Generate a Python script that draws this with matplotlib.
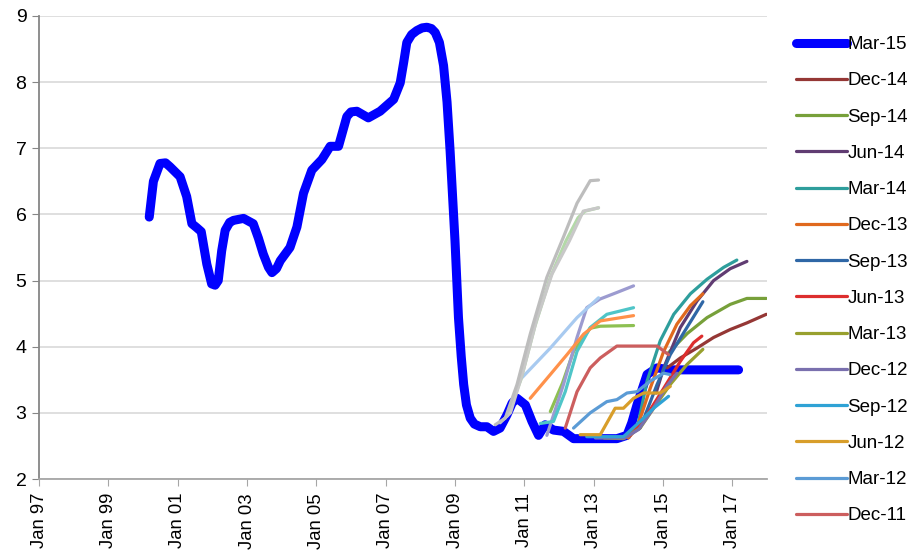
import matplotlib
matplotlib.use("Agg")
import matplotlib.pyplot as plt

plt.rcParams['font.family'] = ['Liberation Sans', 'DejaVu Sans']

# ---------------- data ----------------
tick_years = [1997, 1999, 2001, 2003, 2005, 2007, 2009, 2011, 2013, 2015, 2017]
tick_labels = ["Jan 97", "Jan 99", "Jan 01", "Jan 03", "Jan 05", "Jan 07",
               "Jan 09", "Jan 11", "Jan 13", "Jan 15", "Jan 17"]

mar15_x = [2000.18, 2000.30, 2000.49, 2000.65, 2000.78, 2001.07, 2001.26, 2001.41,
           2001.55, 2001.68, 2001.84, 2001.98, 2002.08, 2002.17, 2002.27, 2002.37,
           2002.50, 2002.61, 2002.90, 2003.18, 2003.33, 2003.47, 2003.62, 2003.72,
           2003.85, 2003.96, 2004.24, 2004.44, 2004.63, 2004.87, 2005.16, 2005.40,
           2005.64, 2005.88, 2006.00, 2006.17, 2006.50, 2006.84, 2007.23, 2007.42,
           2007.52, 2007.61, 2007.75, 2007.90, 2008.05, 2008.19, 2008.32, 2008.43,
           2008.55, 2008.67, 2008.77, 2008.86, 2009.00, 2009.10, 2009.18, 2009.25,
           2009.33, 2009.44, 2009.56, 2009.73, 2009.92, 2010.11, 2010.30, 2010.50,
           2010.65, 2010.79, 2011.03, 2011.22, 2011.41, 2011.60, 2011.84, 2012.13,
           2012.42, 2012.90, 2013.67, 2013.96, 2014.10, 2014.25, 2014.54, 2014.83,
           2015.20, 2016.00, 2017.18]
mar15_y = [5.96, 6.50, 6.77, 6.78, 6.72, 6.57, 6.27, 5.86,
           5.80, 5.74, 5.25, 4.95, 4.93, 5.00, 5.45, 5.76,
           5.88, 5.91, 5.94, 5.86, 5.64, 5.40, 5.20, 5.12,
           5.18, 5.30, 5.50, 5.81, 6.32, 6.67, 6.83, 7.03,
           7.03, 7.48, 7.55, 7.56, 7.46, 7.56, 7.74, 7.99,
           8.30, 8.60, 8.72, 8.78, 8.82, 8.83, 8.81, 8.75,
           8.60, 8.25, 7.70, 6.95, 5.60, 4.44, 3.85, 3.43,
           3.12, 2.92, 2.83, 2.79, 2.79, 2.72, 2.77, 2.97,
           3.15, 3.22, 3.12, 2.87, 2.66, 2.82, 2.74, 2.72,
           2.61, 2.61, 2.61, 2.66, 2.85, 3.12, 3.58, 3.68,
           3.65, 3.65, 3.65]

dec14_x = [2015.12, 2015.50, 2015.98, 2016.46, 2016.94, 2017.42, 2017.98]
dec14_y = [3.68, 3.83, 3.98, 4.14, 4.26, 4.36, 4.49]
sep14_x = [2015.14, 2015.70, 2016.27, 2016.94, 2017.42, 2017.98]
sep14_y = [3.90, 4.20, 4.44, 4.64, 4.73, 4.73]
jun14_x = [2014.80, 2015.02, 2015.50, 2015.98, 2016.46, 2016.94, 2017.42]
jun14_y = [3.30, 3.68, 4.29, 4.69, 5.00, 5.18, 5.29]
mar14_x = [2014.25, 2014.54, 2014.92, 2015.31, 2015.79, 2016.27, 2016.75, 2017.13]
mar14_y = [2.75, 3.48, 4.09, 4.49, 4.80, 5.02, 5.20, 5.31]
dec13_x = [2014.00, 2014.25, 2014.63, 2015.02, 2015.40, 2015.79, 2016.15]
dec13_y = [2.62, 2.77, 3.37, 3.93, 4.34, 4.62, 4.80]
sep13_x = [2013.80, 2014.34, 2014.83, 2015.21, 2015.69, 2016.15]
sep13_y = [2.62, 2.77, 3.43, 3.88, 4.29, 4.68]
jun13_x = [2013.60, 2014.05, 2014.54, 2015.02, 2015.50, 2015.88, 2016.12]
jun13_y = [2.62, 2.66, 2.97, 3.37, 3.78, 4.06, 4.16]
mar13_x = [2013.30, 2013.86, 2014.34, 2014.73, 2015.21, 2015.69, 2016.15]
mar13_y = [2.62, 2.61, 2.77, 3.07, 3.43, 3.73, 3.96]
dec12_x = [2013.05, 2013.90, 2014.30, 2014.70, 2015.10, 2015.40]
dec12_y = [2.62, 2.62, 2.75, 3.05, 3.40, 3.60]
sep12_x = [2012.80, 2013.86, 2014.34, 2014.73, 2015.16]
sep12_y = [2.64, 2.64, 2.87, 3.07, 3.25]
jun12_x = [2012.61, 2013.19, 2013.62, 2013.86, 2014.15, 2014.44, 2014.92, 2015.21]
jun12_y = [2.67, 2.67, 3.07, 3.07, 3.22, 3.30, 3.30, 3.40]
mar12_x = [2012.42, 2012.90, 2013.38, 2013.67, 2013.96, 2014.25, 2014.63, 2015.02, 2015.20]
mar12_y = [2.77, 3.00, 3.17, 3.20, 3.30, 3.32, 3.48, 3.60, 3.58]
dec11_x = [2012.18, 2012.52, 2012.90, 2013.19, 2013.67, 2014.83, 2015.16]
dec11_y = [2.77, 3.32, 3.68, 3.83, 4.01, 4.01, 3.88]

# older (unlabelled) curves
old_a_x = [2010.16, 2010.45, 2010.79, 2011.17, 2011.65, 2012.13, 2012.52, 2012.90, 2013.14]
old_a_y = [2.82, 2.92, 3.43, 4.19, 5.05, 5.66, 6.17, 6.51, 6.52]
old_b_x = [2010.30, 2010.60, 2010.95, 2011.35, 2011.80, 2012.30, 2012.70, 2013.14]
old_b_y = [2.85, 3.00, 3.60, 4.40, 5.10, 5.60, 6.05, 6.10]
old_c_x = [2010.50, 2010.90, 2011.30, 2011.75, 2012.20, 2012.55, 2012.75, 2013.14]
old_c_y = [2.95, 3.50, 4.30, 5.05, 5.60, 5.95, 6.05, 6.10]
old_d_x = [2010.93, 2011.75, 2012.52, 2013.14]
old_d_y = [3.53, 3.98, 4.44, 4.74]
old_e_x = [2011.17, 2011.75, 2012.23, 2012.71, 2013.19, 2014.15]
old_e_y = [3.22, 3.58, 3.88, 4.19, 4.39, 4.47]
old_f_x = [2011.46, 2011.84, 2012.18, 2012.52, 2012.90, 2013.38, 2014.15]
old_f_y = [2.84, 2.87, 3.32, 3.93, 4.29, 4.49, 4.59]
old_g_x = [2011.65, 2012.13, 2012.52, 2012.80, 2013.18, 2013.67, 2014.15]
old_g_y = [2.66, 3.43, 4.14, 4.59, 4.72, 4.82, 4.92]
old_h_x = [2011.75, 2012.10, 2012.42, 2012.90, 2013.19, 2014.15]
old_h_y = [3.02, 3.45, 3.93, 4.28, 4.31, 4.32]

# ---------------- plot ----------------
fig = plt.figure(figsize=(9.19, 5.52), dpi=100)
ax = fig.add_axes([39/919, 1-479/552, (767-39)/919, (479-16)/552])

ax.plot(mar15_x, mar15_y, color='#0000FF', lw=6.5, solid_joinstyle='round',
        solid_capstyle='round', label='Mar-15', zorder=2)

series = [
    (dec14_x, dec14_y, '#953735', 'Dec-14'),
    (sep14_x, sep14_y, '#77A03A', 'Sep-14'),
    (jun14_x, jun14_y, '#603C72', 'Jun-14'),
    (mar14_x, mar14_y, '#2E9E9C', 'Mar-14'),
    (dec13_x, dec13_y, '#E0691E', 'Dec-13'),
    (sep13_x, sep13_y, '#2F67A6', 'Sep-13'),
    (jun13_x, jun13_y, '#DD2E2E', 'Jun-13'),
    (mar13_x, mar13_y, '#98A02E', 'Mar-13'),
    (dec12_x, dec12_y, '#7A70AE', 'Dec-12'),
    (sep12_x, sep12_y, '#2FA2D5', 'Sep-12'),
    (jun12_x, jun12_y, '#D89E2A', 'Jun-12'),
    (mar12_x, mar12_y, '#5B9BD5', 'Mar-12'),
    (dec11_x, dec11_y, '#CC5E5E', 'Dec-11'),
]
for x, y, c, lab in series:
    ax.plot(x, y, color=c, lw=2.3, solid_joinstyle='round',
            solid_capstyle='round', label=lab, zorder=3)

old = [
    (old_h_x, old_h_y, '#8DC052'),
    (old_g_x, old_g_y, '#9C9BD0'),
    (old_f_x, old_f_y, '#4FC5C8'),
    (old_e_x, old_e_y, '#FF914A'),
    (old_d_x, old_d_y, '#A8CAF0'),
    (old_c_x, old_c_y, '#B3D9A8'),
    (old_b_x, old_b_y, '#C8C8C8'),
    (old_a_x, old_a_y, '#BDBDBD'),
]
for x, y, c in old:
    ax.plot(x, y, color=c, lw=2.3, solid_joinstyle='round',
            solid_capstyle='round', label='_nolegend_', zorder=3)

ax.set_xlim(1997, 2018)
ax.set_ylim(2, 9)
ax.set_yticks(range(2, 10))
ax.set_xticks(tick_years)
ax.set_xticklabels(tick_labels, rotation=90)
ax.grid(axis='y', color='#D9D9D9', lw=1.2, zorder=0)
ax.set_axisbelow(True)
for s in ['top', 'right']:
    ax.spines[s].set_visible(False)
ax.spines['left'].set_color('#868686')
ax.spines['bottom'].set_color('#A6A6A6')
ax.spines['left'].set_linewidth(1.3)
ax.spines['bottom'].set_linewidth(1.3)
ax.tick_params(axis='y', length=5, color='#868686', labelsize=14, pad=4)
ax.tick_params(axis='x', length=5, color='#A6A6A6', labelsize=13.3, pad=5)

leg = fig.legend(loc='upper left', bbox_to_anchor=(796/919, 1-36/552),
                 bbox_transform=fig.transFigure, frameon=False, fontsize=13.5,
                 handlelength=2.7, handletextpad=0.05, labelspacing=1.02,
                 borderpad=0, borderaxespad=0)

fig.savefig('out.png', dpi=100)
